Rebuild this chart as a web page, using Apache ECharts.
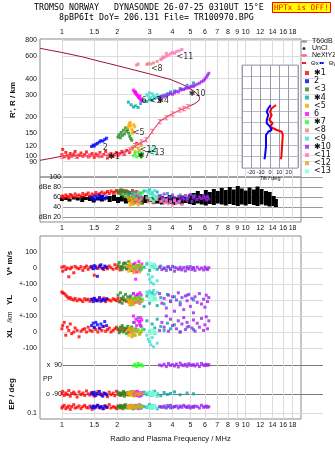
<!DOCTYPE html>
<html><head><meta charset="utf-8">
<script src="https://cdn.jsdelivr.net/npm/echarts@6/dist/echarts.min.js"></script>
<style>html,body{margin:0;padding:0;background:#fff}#c{width:335px;height:451px}</style>
</head><body><div id="c"></div>
<script>
const lg = Math.log10;
// ---------- tick labels ----------
const freqTicks = [1,1.5,2,3,4,5,6,7,8,9,10,12,14,16,18];
const heightTicks = [80,90,100,120,150,200,300,400,600,800];
const ampTicks = [20,40,60,80,100];
const ampTickText = {20:'dBn 20',40:'40',60:'60',80:'dBe 80',100:'100'};
const vTicks = [100,0,-100];
const ylTicks = [0];
const xlTicks = [100,0,-100];
const ppTicks = [90,-90];
const epTicks = [10,0.1];

// ---------- model profile (dark red) ----------
const profF = [0.76,1.0,1.3,1.6,2.0,2.34,2.6,2.88,3.41,3.87,4.38,4.85,5.28,5.55,5.62,5.55,5.3,4.9,4.4,3.87,3.5,3.0,2.5,2.0,1.61,1.3,1.0,0.85,0.76];
const profH = [92,99,100,100,102,111,122,133,186,208,227,241,255,268,281,295,315,340,367,395,410,435,465,505,545,590,640,668,690];
// NeXtYZ bottomside profile (pink)
const nxF = [1.0,1.2,1.4,1.6,1.8,2.0,2.2,2.34,2.5,2.7,2.88,3.1,3.41,3.7,4.0,4.38,4.6,4.85];
const nxH = [99,99,100,100,101,102,105,111,120,128,133,155,184,198,212,227,233,241];

// ---------- echo clusters: freq (MHz), height (km), amplitude (dB), V* (m/s), YL, XL (km), PP, EP (deg) ----------
const f1 = [1.0,1.01,1.03,1.05,1.07,1.09,1.11,1.13,1.16,1.18,1.21,1.24,1.27,1.3,1.33,1.36,1.39,1.42,1.46,1.5,1.53,1.57,1.61,1.65,1.69,1.73,1.77,1.81,1.85,1.9,1.94,1.98,2.02,2.07,2.12,2.18,2.25,2.33,2.42,2.55];
const h1 = [102,112,98,106,100,96,104,99,103,108,97,101,105,99,102,107,98,100,104,97,103,100,106,99,102,108,96,101,104,99,103,106,100,104,108,102,110,106,115,125];
const a1 = [60,62,58,64,61,59,65,63,60,66,62,64,61,67,63,65,68,62,66,64,69,65,67,70,66,68,71,67,72,69,70,73,68,71,74,70,72,69,73,71];
const v1 = [5,-20,10,-10,0,-55,-5,5,-30,10,0,-5,8,-15,3,12,-8,5,0,-45,10,-3,15,0,-10,6,-5,12,2,-8,20,-2,10,-12,5,30,-5,8,-15,10];
const yl1 = [50,45,40,30,20,10,15,5,0,10,-5,5,0,-10,8,0,5,-8,2,10,-5,0,6,-3,12,-10,4,0,-6,8,2,-4,10,-12,5,0,-8,15,3,-5];
const xl1 = [20,40,60,-20,30,10,50,-10,0,25,10,-30,5,15,20,0,30,10,5,25,15,0,20,10,35,5,15,25,0,10,20,30,15,5,25,10,20,0,15,10];
const pp1 = [-90,-75,-100,-85,-95,-70,-105,-88,-80,-92,-110,-78,-95,-85,-100,-72,-90,-98,-82,-105,-88,-76,-94,-100,-84,-90,-108,-80,-96,-86,-102,-74,-92,-88,-98,-82,-95,-90,-78,-100];
const ep1 = [8,10,12,7,9,11,6,10,13,8,9,11,7,10,12,9,8,11,6,10,9,12,8,10,7,11,9,13,8,10,9,7,11,10,8,12,9,10,7,11];

const f2 = [1.45,1.48,1.5,1.53,1.56,1.6,1.63,1.67,1.71,1.75];
const h2 = [118,121,119,123,125,128,131,130,134,137];
const a2 = [58,60,55,62,57,63,59,61,56,60];
const v2 = [10,-5,15,0,-52,8,20,-3,12,5];
const yl2 = [5,-10,10,0,-5,15,-8,3,-2,8];
const xl2 = [40,55,30,60,45,25,50,35,65,40];
const pp2 = [-85,-95,-80,-100,-90,-75,-92,-105,-88,-96];
const ep2 = [9,11,8,10,12,9,10,7,11,9];

const f3 = [2.02,2.05,2.08,2.1,2.13,2.16,2.19,2.22,2.25,2.28,2.31,2.34,2.37,2.4];
const h3 = [140,146,138,152,144,158,148,165,155,160,150,142,136,132];
const a3 = [72,68,74,65,70,62,73,67,60,71,64,69,58,66];
const v3 = [20,35,0,10,-10,25,5,30,-5,15,40,0,10,-15];
const yl3 = [30,-10,45,10,-20,20,0,35,-5,15,5,-15,25,0];
const xl3 = [20,-5,30,10,40,0,25,15,-10,35,5,20,10,30];
const pp3 = [-80,-95,-100,-85,-90,-75,-105,-88,-92,-82,-98,-86,-94,-90];
const ep3 = [10,8,12,9,11,7,10,13,9,8,11,10,12,9];

const f4 = [2.3,2.38,2.45,2.52,2.6,2.68,2.8,2.9,3.0,3.1,3.2,3.3,3.45,3.6,3.75,3.9,4.1,4.4,4.8,5.2];
const h4 = [262,250,240,245,238,255,268,265,275,270,280,285,290,298,305,315,320,335,355,370];
const a4 = [65,58,70,62,55,68,72,60,74,66,58,70,63,55,67,60,52,64,57,62];
const v4 = [10,-5,20,0,15,-10,5,25,-15,10,0,-8,12,-3,6,-10,4,-6,8,0];
const yl4 = [20,-30,40,-10,30,0,-40,25,-20,45,10,-35,15,-25,35,-5,20,-15,30,0];
const xl4 = [10,30,60,20,90,40,15,70,5,50,25,80,35,10,55,20,45,0,30,15];
const pp4 = [-88,-76,-100,-92,-84,-104,-80,-95,-86,-98,-74,-90,-102,-82,-94,-88,-78,-96,-85,-90];
const ep4 = [9,11,7,10,12,8,10,9,13,8,11,7,10,9,12,8,10,11,9,10];

const f5 = [2.28,2.31,2.34,2.37,2.4,2.43,2.46,2.49,2.35,2.42];
const h5 = [165,172,178,170,160,155,175,168,182,150];
const a5 = [60,55,50,58,46,52,48,56,44,54];
const v5 = [10,-20,30,-5,20,0,-30,15,5,-10];
const yl5 = [5,-15,-30,0,-20,10,-25,-5,-10,-20];
const xl5 = [10,-20,30,0,-30,20,-10,5,15,-25];
const pp5 = [-90,-80,-100,-85,-95,-75,-105,-88,-92,-82];
const ep5 = [9,11,8,10,12,7,10,9,11,8];

const f6 = [2.45,2.48,2.5,2.53,2.55,2.58,2.6,2.62,2.65,2.68,2.7,2.72,2.52,2.66];
const h6 = [325,318,310,305,300,296,290,285,280,276,270,268,315,292];
const a6 = [62,58,66,55,60,52,64,57,50,61,54,59,68,56];
const v6 = [20,-10,30,5,-25,15,0,40,-15,10,-5,25,-70,5];
const yl6 = [40,10,-15,25,0,35,-10,15,-20,5,30,-5,20,45];
const xl6 = [100,60,130,80,40,110,70,120,50,90,35,75,105,65];
const pp6 = [-85,-95,-80,-100,-90,-75,-92,-105,-88,-96,-82,-98,-78,-90];
const ep6 = [10,8,12,9,11,10,7,10,13,9,8,11,10,9];

const f7 = [2.45,2.5,2.55,2.6,2.65,2.7,2.75];
const h7 = [100,104,98,107,102,97,105];
const a7 = [60,66,58,70,63,56,68];
const v7 = [10,-5,15,0,20,-10,5];
const yl7 = [10,-5,15,0,20,-10,5];
const xl7 = [10,-20,5,15,-10,0,20];
const pp7 = [85,95,80,100,88,92,84];
const ep7 = [9,11,8,10,12,9,10];

const f8 = [2.55,2.6,2.9,2.95,3.05,3.15,3.3,3.45,3.55,3.7];
const h8 = [510,520,515,525,520,530,545,565,590,630];
const a8 = [56,52,58,50,54,48,55,51,57,49];

const f9 = [2.9,2.95,3.0,3.05,3.1,3.15,3.2,3.3];
const h9 = [300,292,310,285,305,295,282,300];
const a9 = [72,68,75,66,70,64,73,62];
const v9 = [30,-40,-70,-90,-55,-100,20,-80];
const yl9 = [50,40,55,45,30,60,35,48];
const xl9 = [-20,-45,-60,-80,-35,-92,-10,-70];
const pp9 = [-85,-95,-80,-100,-90,-75,-92,-105];
const ep9 = [9,11,8,10,12,9,10,7];

const f10 = [3.4,3.5,3.6,3.7,3.8,3.9,4.0,4.1,4.2,4.3,4.4,4.5,4.6,4.7,4.8,4.9,5.0,5.1,5.2,5.3,5.45,5.6,5.75,5.9,6.0,6.1,6.2,6.3];
const h10 = [285,292,288,296,300,305,302,310,318,315,325,330,328,335,340,338,345,350,348,355,362,368,378,385,398,410,425,440];
const a10 = [62,58,66,55,60,52,64,57,50,61,54,59,56,63,53,60,65,51,58,62,55,60,57,63,59,54,61,56];
const v10 = [5,-10,0,-15,8,-5,10,-20,0,-8,5,-12,3,-18,0,-6,8,-10,2,-15,5,-8,0,-12,6,-4,-10,2];
const yl10 = [40,-20,10,-50,30,-10,20,-70,0,45,-30,15,-60,25,-5,35,-40,10,-80,20,-15,40,-25,5,-45,30,-10,15];
const xl10 = [10,60,30,100,5,80,40,120,20,70,0,50,90,15,60,35,110,25,75,5,55,30,85,10,45,95,20,70];
const pp10 = [90,85,95,80,100,88,92,84,96,78,102,90,86,94,82,98,90,88,92,84,96,80,100,90,86,94,88,92];
const ep10 = [10,9,11,8,10,12,9,10,11,8,10,9,12,10,9,11,8,10,9,11,10,8,12,9,10,11,9,10];

const f11 = [3.5,3.6,3.7,3.8,3.9,4.0,4.1,4.2,4.35,4.5];
const h11 = [570,585,600,610,625,640,630,650,660,675];
const a11 = [52,48,54,46,50,44,53,47,51,45];

const f12 = [2.4,2.45,2.5,2.55,2.6,2.65,2.7];
const h12 = [112,118,108,122,115,110,120];
const a12 = [50,46,54,48,44,52,47];
const v12 = [0,-20,10,-10,5,-25,15];
const yl12 = [-10,-25,0,-15,5,-20,-5];
const xl12 = [-10,5,-20,10,0,-15,5];
const pp12 = [-90,-80,-100,-85,-95,-88,-92];
const ep12 = [9,11,8,10,12,9,10];

const f13 = [3.0,3.05,3.1,3.15,3.2,3.25];
const h13 = [108,114,106,117,110,104];
const a13 = [58,55,62,52,60,56];
const v13 = [15,30,5,25,-5,10];
const yl13 = [10,-5,20,0,15,5];
const xl13 = [5,-10,15,0,10,-5];
const pp13 = [-85,-95,-80,-100,-90,-88];
const ep13 = [9,11,8,10,12,9];

// ---------- noise (black) in amplitude panel: freq, low dB, high dB ----------
const noiseF = [1.0,1.05,1.1,1.16,1.22,1.29,1.35,1.42,1.49,1.57,1.65,1.74,1.82,1.92,2.02,2.12,2.23,2.34,2.46,2.59,2.72,2.86,3.01,3.16,3.33,3.5,3.68,3.87,4.07,4.27,4.49,4.72,4.97,5.22,5.49,5.77,6.07,6.38,6.71,7.05,7.41,7.79,8.19,8.61,9.06,9.52,10.0,10.5,11.1,11.6,12.2,12.9,13.5,14.2,14.6];
const noiseLo = [52,54,51,55,53,50,54,52,49,53,51,55,50,52,48,51,47,50,46,49,45,48,50,46,47,45,48,46,44,47,45,48,46,44,47,45,43,46,44,47,45,43,46,44,42,45,43,46,44,42,45,43,41,42,40];
const noiseHi = [58,60,57,61,59,62,60,63,58,61,64,60,62,65,60,63,58,61,60,62,59,64,60,63,58,62,60,64,61,59,63,60,65,68,72,66,74,70,76,72,78,74,80,75,82,77,73,79,75,81,76,72,70,62,56];

// ---------- tilt inset ----------
const tiltH = [550,522,492,463,419,391,361,332,317,288,186,99,76];
const tiltX = [6.5,1.8,0,1.8,-0.8,2.9,0,7.2,12.6,13.7,12.9,12.2,11.5];
const tiltY = [0.8,-1.8,-3.5,-1.8,-3.5,-3.5,0,1.8,-1.8,-4.3,-4.3,-5.4,-6.1];

// ---------- trace annotations ----------
const labT = ['\u27311','2','<5','6','<3','\u27314','<8','<11','\u273110','<12','\u27317','<13'];
const labF = [1.78,1.67,2.43,2.71,3.0,3.3,3.05,4.2,4.9,2.65,2.59,2.93];
const labH = [97,116,150,269,270,270,475,590,305,111,99,105];

const clusters = [
  ['\u27311','#ff0000',{f:f1,h:h1,a:a1,v:v1,yl:yl1,xl:xl1,pp:pp1,ep:ep1}],
  ['2','#0000ff',{f:f2,h:h2,a:a2,v:v2,yl:yl2,xl:xl2,pp:pp2,ep:ep2}],
  ['<3','#228b22',{f:f3,h:h3,a:a3,v:v3,yl:yl3,xl:xl3,pp:pp3,ep:ep3}],
  ['\u27314','#00a8a8',{f:f4,h:h4,a:a4,v:v4,yl:yl4,xl:xl4,pp:pp4,ep:ep4}],
  ['<5','#ffa500',{f:f5,h:h5,a:a5,v:v5,yl:yl5,xl:xl5,pp:pp5,ep:ep5}],
  ['6','#ff00ff',{f:f6,h:h6,a:a6,v:v6,yl:yl6,xl:xl6,pp:pp6,ep:ep6}],
  ['\u27317','#22ff22',{f:f7,h:h7,a:a7,v:v7,yl:yl7,xl:xl7,pp:pp7,ep:ep7}],
  ['<8','#f08080',{f:f8,h:h8,a:a8}],
  ['<9','#40e0d0',{f:f9,h:h9,a:a9,v:v9,yl:yl9,xl:xl9,pp:pp9,ep:ep9}],
  ['\u273110','#a020f0',{f:f10,h:h10,a:a10,v:v10,yl:yl10,xl:xl10,pp:pp10,ep:ep10}],
  ['<11','#ff77bb',{f:f11,h:h11,a:a11}],
  ['<12','#daa520',{f:f12,h:h12,a:a12,v:v12,yl:yl12,xl:xl12,pp:pp12,ep:ep12}],
  ['<13','#7fffd4',{f:f13,h:h13,a:a13,v:v13,yl:yl13,xl:xl13,pp:pp13,ep:ep13}]
];

// ---------- layout ----------
const L = 40, W = 261;
const FONT = 'Liberation Sans';
const xMin = lg(0.76), xMax = lg(20);
const gridDefs = [
  {top:39, height:138, show:true},   // 0 height
  {top:177, height:45, show:true},   // 1 amplitude
  {top:236, height:183, show:true},  // 2 lower frame
  {top:236, height:48},              // 3 V*
  {top:284, height:32},              // 4 YL
  {top:316, height:32},              // 5 XL
  {top:357, height:44.8},            // 6 PP
  {top:402, height:17}               // 7 EP
];
const grids = gridDefs.map(g => ({left:L, width:W, top:g.top, height:g.height, show:!!g.show, borderColor:'#8a8a8a', borderWidth:1, backgroundColor:'transparent'}));
grids.push({left:242, top:65, width:56, height:103, show:true, borderColor:'#a8a8b8', borderWidth:1, backgroundColor:'#fff', z:5});

const gl = '#dcdcdc';
const lab = {fontFamily:FONT, fontSize:7, color:'#111'};
function fx(i, extra){
  return Object.assign({type:'value', gridIndex:i, min:xMin, max:xMax, show:true,
    axisLine:{show:false}, splitLine:{show:false},
    axisLabel:{show:false},
    axisTick:{show:i<=2, inside:true, length:gridDefs[i].height, customValues:freqTicks.map(lg), lineStyle:{color:gl}}}, extra||{});
}
const freqLabel = {show:true, customValues:freqTicks.map(lg), formatter:v=>String(+Math.pow(10,v).toFixed(2)), ...lab, margin:3};
const xAxes = [
  fx(0,{position:'top', axisLabel:freqLabel}),
  fx(1,{position:'bottom', axisLabel:freqLabel}),
  fx(2,{position:'bottom', axisLabel:freqLabel, name:'Radio and Plasma Frequency / MHz', nameLocation:'middle', nameGap:16, nameTextStyle:{fontFamily:FONT, fontSize:7.5, color:'#111'}}),
  fx(3), fx(4), fx(5), fx(6), fx(7),
  {type:'value', gridIndex:8, min:-30, max:30, interval:10, z:6,
   axisLine:{show:false}, axisTick:{show:false},
   splitLine:{show:true, lineStyle:{color:'#9a9aaa'}},
   axisLabel:{show:true, fontFamily:FONT, fontSize:5.5, color:'#111', margin:1, showMinLabel:false, showMaxLabel:false},
   name:'Tilt / deg', nameLocation:'middle', nameGap:7, nameTextStyle:{fontFamily:FONT, fontSize:5.5, color:'#111'}}
];
function fy(i, min, max, ticks, fmt, extra, tickColor){
  return Object.assign({type:'value', gridIndex:i, min, max,
    axisLine:{show:false}, splitLine:{show:false},
    axisLabel:{show:true, customValues:ticks, formatter:fmt, ...lab, margin:3},
    axisTick:{show:true, inside:true, length:W, customValues:ticks, lineStyle:{color:tickColor||gl}}}, extra||{});
}
const yAxes = [
  fy(0, lg(68.2), lg(815), heightTicks.map(lg), v=>String(Math.round(Math.pow(10,v)))),
  fy(1, 10, 100, ampTicks, v=>ampTickText[v], {axisLabel:{show:true, customValues:ampTicks, formatter:v=>ampTickText[v], ...lab, margin:-21}}, '#9a9a9a'),
  {type:'value', gridIndex:2, min:0, max:1, show:false},
  fy(3, -100, 200, vTicks, v=>v===-100?'+-100':String(v)),
  fy(4, -100, 100, ylTicks, v=>String(v)),
  fy(5, -100, 100, xlTicks, v=>v===100?'+-100':String(v)),
  fy(6, -140, 140, ppTicks, v=>v>0?'x  90':'o -90', {axisLabel:{show:true, customValues:ppTicks, formatter:v=>v>0?'x  90':'o -90', ...lab, margin:-22}}, '#7a7a7a'),
  fy(7, -8.5, 17, epTicks, v=>v===10?'10.':'0.1'),
  {type:'value', gridIndex:8, min:0, max:900, interval:100, z:6, axisLine:{show:false}, axisTick:{show:false}, axisLabel:{show:false}, splitLine:{show:true, lineStyle:{color:'#b8b8c8'}}}
];

// ---------- series ----------
const series = [];
series.push({type:'line', name:'T60dB', xAxisIndex:1, yAxisIndex:1, data:[], itemStyle:{color:'#999'}, lineStyle:{color:'#999'}, symbol:'none'});
series.push({type:'scatter', name:'UnCl', xAxisIndex:0, yAxisIndex:0, data:[], symbol:'circle', symbolSize:2, itemStyle:{color:'#000'}});
series.push({type:'line', name:'profile', xAxisIndex:0, yAxisIndex:0, data:profF.map((f,i)=>[lg(f), lg(profH[i])]), symbol:'none', lineStyle:{color:'#a0103c', width:1}, z:3, silent:true});
series.push({type:'line', name:'NeXtYZ', xAxisIndex:0, yAxisIndex:0, data:nxF.map((f,i)=>[lg(f), lg(nxH[i])]), symbol:'path://M0,0H4V1H2.5V5H4V6H0V5H1.5V1H0Z', symbolSize:[4,5], itemStyle:{color:'#ff6688'}, lineStyle:{color:'#ff6688', width:1}, z:4, silent:true});
series.push({type:'custom', name:'noise', xAxisIndex:1, yAxisIndex:1, silent:true, z:2,
  data:noiseF.map((f,i)=>[lg(f), noiseLo[i], noiseHi[i]]),
  encode:{x:0, y:[1,2]},
  renderItem:(params, api)=>{
    const top = api.coord([api.value(0), api.value(2)]);
    const bot = api.coord([api.value(0), api.value(1)]);
    return {type:'rect', shape:{x:top[0]-2, y:top[1], width:4, height:bot[1]-top[1]}, style:{fill:'#000'}};
  }});
const lanes = [['h',0,lg],['a',1,null],['v',3,null],['yl',4,null],['xl',5,null],['pp',6,null],['ep',7,null]];
clusters.forEach(([name,color,d])=>{
  lanes.forEach(([k,gi,tr])=>{
    if(!d[k]) return;
    series.push({type:'scatter', name, xAxisIndex:gi, yAxisIndex:gi, symbol:'rect', symbolSize:3, itemStyle:{color}, silent:true, z:3,
      data:d.f.map((f,i)=>[lg(f), tr?tr(d[k][i]):d[k][i]])});
  });
});
series.push({type:'scatter', name:'labels', xAxisIndex:0, yAxisIndex:0, symbolSize:0, silent:true, z:6,
  data:labF.map((f,i)=>[lg(f), lg(labH[i]), labT[i]]),
  label:{show:true, position:'right', distance:0, formatter:p=>p.data[2], fontFamily:'DejaVu Sans', fontSize:8, color:'#000'}});
series.push({type:'line', name:'\u0398x', xAxisIndex:8, yAxisIndex:8, z:7, data:tiltX.map((t,i)=>[t, tiltH[i]]), symbol:'none', lineStyle:{color:'#ff0000', width:2}, itemStyle:{color:'#ff4466'}});
series.push({type:'line', name:'\u0398y', xAxisIndex:8, yAxisIndex:8, z:7, data:tiltY.map((t,i)=>[t, tiltH[i]]), symbol:'none', lineStyle:{color:'#0000ff', width:2}, itemStyle:{color:'#4466ff'}});

const legText = {fontFamily:FONT, fontSize:7, color:'#111', lineHeight:6, padding:0};
const option = {
  animation:false,
  textStyle:{fontFamily:FONT},
  title:[
    {text:'TROMSO NORWAY   DYNASONDE 26-07-25 0310UT 15\u00b0E', left:34, top:4, padding:0, textStyle:{fontFamily:'DejaVu Sans Mono', fontSize:8.3, fontWeight:'normal', color:'#000'}},
    {text:'8pBP6It DoY= 206.131 File= TR100970.BPG', left:59, top:14, padding:0, textStyle:{fontFamily:'DejaVu Sans Mono', fontSize:8.3, fontWeight:'normal', color:'#000'}},
    {text:'HPTx is OFF!', left:272, top:2, padding:[1,2,0,2], backgroundColor:'#ffff00', borderColor:'#ff0000', borderWidth:1, textStyle:{fontFamily:'DejaVu Sans Mono', fontSize:7.6, fontWeight:'normal', color:'#ff0000', lineHeight:10}}
  ],
  legend:[
    {data:['T60dB','UnCl','NeXtYZ'], orient:'vertical', left:300, top:38, width:60, itemWidth:6, itemHeight:3, itemGap:0, padding:0, textStyle:legText, selectedMode:false},
    {data:['\u0398x','\u0398y'], orient:'horizontal', left:301, top:60, width:80, itemWidth:4, itemHeight:2, itemGap:0, padding:0, textStyle:{...legText, fontSize:6}, selectedMode:false},
    {data:clusters.map(c=>c[0]), orient:'vertical', left:305, top:69, width:60, itemWidth:4, itemHeight:4, itemGap:0.2, padding:0, icon:'rect', textStyle:{...legText, fontFamily:'DejaVu Sans', fontSize:8, lineHeight:7.6}, selectedMode:false}
  ],
  grid:grids, xAxis:xAxes, yAxis:yAxes, series,
  graphic:[
    {type:'text', x:13, y:100, rotation:Math.PI/2, style:{text:"R', R / km", font:'bold 8px '+FONT, fill:'#111', align:'center', verticalAlign:'middle'}},
    {type:'text', x:10, y:263, rotation:Math.PI/2, style:{text:'V* m/s', font:'bold 8px '+FONT, fill:'#111', align:'center', verticalAlign:'middle'}},
    {type:'text', x:10, y:300, rotation:Math.PI/2, style:{text:'YL', font:'bold 8px '+FONT, fill:'#111', align:'center', verticalAlign:'middle'}},
    {type:'text', x:10, y:317, rotation:Math.PI/2, style:{text:'/km', font:'7px '+FONT, fill:'#111', align:'center', verticalAlign:'middle'}},
    {type:'text', x:10, y:333, rotation:Math.PI/2, style:{text:'XL', font:'bold 8px '+FONT, fill:'#111', align:'center', verticalAlign:'middle'}},
    {type:'text', x:12, y:394, rotation:Math.PI/2, style:{text:'EP / deg', font:'bold 8px '+FONT, fill:'#111', align:'center', verticalAlign:'middle'}},
    {type:'text', x:43, y:379, style:{text:'PP', font:'7px '+FONT, fill:'#111', align:'left', verticalAlign:'middle'}}
  ]
};
echarts.init(document.getElementById('c'), null, {renderer:'canvas'}).setOption(option);
</script>
</body></html>
